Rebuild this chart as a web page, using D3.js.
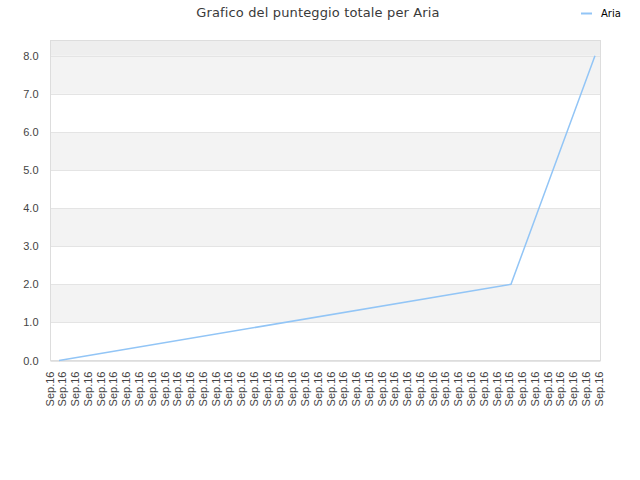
<!DOCTYPE html>
<html><head><meta charset="utf-8">
<script src="https://cdn.jsdelivr.net/npm/d3@7"></script>
<style>body{margin:0;background:#fff}svg{display:block}</style>
</head><body><svg id="c" width="640" height="480"></svg>
<script>
const title = "Grafico del punteggio totale per Aria";
const seriesName = "Aria";
const xLabels = Array.from({length: 44}, () => "Sep.16");
// point positions expressed in x-tick units (time axis), and total score
const pointPos = [0.76, 36.16, 42.74];
const pointVal = [0, 2, 8];
const yTicks = [0, 1, 2, 3, 4, 5, 6, 7, 8];

const svg = d3.select("#c");
const L = 50.5, R = 600.5, T = 40.5, B = 360.5;
const x = d3.scaleLinear().domain([0, xLabels.length - 1]).range([49.3, 598.3]);
const y = d3.scaleLinear().domain([0, 8.4]).range([B, T]);

// bands
const bandData = [[8, 8.4, "#eeeeee"]];
for (let i = 0; i < 8; i++) bandData.push([i, i + 1, i % 2 ? "#f3f3f3" : "#ffffff"]);
svg.selectAll("rect.band").data(bandData).enter().append("rect")
  .attr("x", L).attr("width", R - L)
  .attr("y", d => y(d[1])).attr("height", d => y(d[0]) - y(d[1]))
  .attr("fill", d => d[2]);

// grid lines
svg.selectAll("line.grid").data(yTicks).enter().append("line")
  .attr("x1", L).attr("x2", R)
  .attr("y1", d => Math.round(y(d)) + 0.5).attr("y2", d => Math.round(y(d)) + 0.5)
  .attr("stroke", "#e4e4e4");

// frame
svg.append("rect").attr("x", L).attr("y", T).attr("width", R - L).attr("height", B - T)
  .attr("fill", "none").attr("stroke", "#dddddd");

// y axis
const yAxis = d3.axisLeft(y).tickValues(yTicks).tickFormat(d3.format(".1f")).tickSize(0).tickPadding(12);
const gy = svg.append("g").attr("transform", `translate(${L},0)`).call(yAxis);
gy.select(".domain").remove();
gy.selectAll("text").attr("font-family", "Liberation Sans, Arial").attr("font-size", 11).attr("fill", "#444");

// x axis
const xAxis = d3.axisBottom(x).tickValues(d3.range(xLabels.length)).tickFormat(i => xLabels[i]).tickSize(0);
const gx = svg.append("g").attr("transform", `translate(0,${B})`).call(xAxis);
gx.select(".domain").remove();
gx.selectAll("text").attr("font-family", "Liberation Sans, Arial").attr("font-size", 11).attr("fill", "#444")
  .attr("text-anchor", "end").attr("transform", "rotate(-90)")
  .attr("x", -11).attr("y", 0).attr("dy", "0.35em");

// line
const pts = pointPos.map((p, i) => [p, pointVal[i]]);
svg.append("path").datum(pts)
  .attr("fill", "none").attr("stroke", "#92c5f6").attr("stroke-width", 1.5)
  .attr("d", d3.line().x(d => x(d[0])).y(d => y(d[1])));

// title
svg.append("text").attr("x", 318).attr("y", 16.5).attr("text-anchor", "middle")
  .attr("font-family", "DejaVu Sans").attr("font-size", 13).attr("letter-spacing", 0.14)
  .attr("fill", "#3a3a3a").text(title);

// legend
svg.append("line").attr("x1", 581).attr("x2", 592).attr("y1", 13.5).attr("y2", 13.5)
  .attr("stroke", "#92c5f6").attr("stroke-width", 2);
svg.append("text").attr("x", 601).attr("y", 17).attr("font-family", "DejaVu Sans").attr("font-size", 10)
  .attr("fill", "#000").text(seriesName);
</script></body></html>
